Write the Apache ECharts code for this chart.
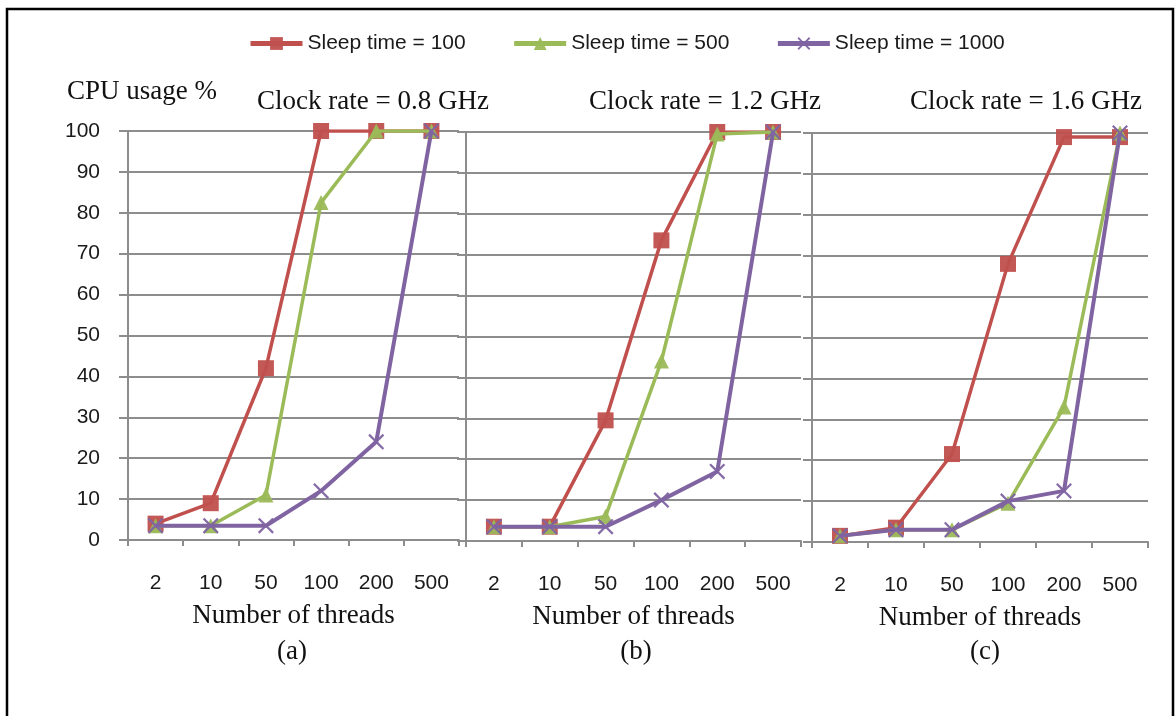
<!DOCTYPE html>
<html>
<head>
<meta charset="utf-8">
<script src="https://cdn.jsdelivr.net/npm/echarts@6/dist/echarts.min.js"></script>
<style>html,body{margin:0;padding:0;background:#fff}#c{width:1176px;height:716px}</style>
</head>
<body>
<div id="c"></div>
<script>
const categories = ['2', '10', '50', '100', '200', '500'];
const yTicks = [0, 10, 20, 30, 40, 50, 60, 70, 80, 90, 100];
const seriesNames = ['Sleep time = 100', 'Sleep time = 500', 'Sleep time = 1000'];
const panelTitles = ['Clock rate = 0.8 GHz', 'Clock rate = 1.2 GHz', 'Clock rate = 1.6 GHz'];
const panelCaptions = ['(a)', '(b)', '(c)'];

// Panel (a) 0.8 GHz
const a_sleep100 = [4, 9, 42, 100, 100, 100];
const a_sleep500 = [3.5, 3.5, 11, 82.5, 100, 100];
const a_sleep1000 = [3.5, 3.5, 3.5, 12, 24, 100];
// Panel (b) 1.2 GHz
const b_sleep100 = [3.5, 3.5, 29.5, 73.5, 100, 100];
const b_sleep500 = [3.5, 3.5, 6, 44, 99.5, 100];
const b_sleep1000 = [3.5, 3.5, 3.5, 10, 17, 100];
// Panel (c) 1.6 GHz
const c_sleep100 = [1.5, 3.5, 21.5, 68, 99, 99];
const c_sleep500 = [1.5, 3, 3, 9.5, 33, 100];
const c_sleep1000 = [1.5, 3, 3, 10, 12.5, 100];

const panels = [
  [a_sleep100, a_sleep500, a_sleep1000],
  [b_sleep100, b_sleep500, b_sleep1000],
  [c_sleep100, c_sleep500, c_sleep1000]
];

const colors = ['#C0504D', '#9BBB59', '#8064A2'];
const symbols = ['rect', 'triangle',
  'path://M0,1L1,0L5,4L9,0L10,1L6,5L10,9L9,10L5,6L1,10L0,9L4,5Z'];
const symbolSizes = [16, 15, 16];
const lineWidths = [3.5, 3.5, 4];

const grids = [
  { left: 128, top: 131, width: 331, height: 409 },
  { left: 466, top: 132, width: 335, height: 409 },
  { left: 812, top: 133, width: 336, height: 409 }
];

const SERIF = '"Liberation Serif", "Times New Roman", serif';
const SANS = '"Liberation Sans", Arial, sans-serif';
const GRIDC = '#8d8d8d';

const xAxes = grids.map((g, i) => ({
  type: 'category', gridIndex: i, data: categories, boundaryGap: true,
  axisLine: { show: true, lineStyle: { color: GRIDC, width: 2 } },
  axisTick: { show: true, length: 6, lineStyle: { color: GRIDC, width: 2 } },
  axisLabel: { margin: 33, fontSize: 21, color: '#1a1a1a', fontFamily: SANS },
  name: 'Number of threads', nameLocation: 'middle', nameGap: 62,
  nameTextStyle: { fontSize: 27, color: '#111', fontFamily: SERIF }
}));

const yAxes = grids.map((g, i) => ({
  type: 'value', gridIndex: i, min: 0, max: 100, interval: 10,
  axisLine: { show: true, lineStyle: { color: GRIDC, width: 2 } },
  axisTick: { show: true, length: 9, lineStyle: { color: GRIDC, width: 2 } },
  axisLabel: { show: i === 0, margin: 28, fontSize: 21, color: '#1a1a1a', fontFamily: SANS },
  splitLine: { show: true, lineStyle: { color: GRIDC, width: 2 } }
}));

const series = [];
panels.forEach((p, pi) => {
  p.forEach((vals, si) => {
    series.push({
      name: seriesNames[si], type: 'line', xAxisIndex: pi, yAxisIndex: pi,
      data: vals, symbol: symbols[si], symbolSize: symbolSizes[si],
      showAllSymbol: true, animation: false,
      lineStyle: { color: colors[si], width: lineWidths[si] },
      itemStyle: { color: colors[si], opacity: 0.95 },
      z: 2 + si
    });
  });
});

const titleCenters = [368, 700, 1021];
const titles = panelTitles.map((t, i) => ({
  text: t, left: titleCenters[i], top: 83, textAlign: 'center',
  textStyle: { fontSize: 27, fontWeight: 'normal', color: '#111', fontFamily: SERIF }
}));

const chart = echarts.init(document.getElementById('c'));
chart.setOption({
  backgroundColor: '#fff',
  animation: false,
  title: titles,
  legend: {
    data: seriesNames, top: 28, left: 243, itemGap: 46, itemWidth: 52, itemHeight: 16,
    lineStyle: { width: 5 },
    textStyle: { fontSize: 21, color: '#1a1a1a', fontFamily: SANS }
  },
  grid: grids,
  xAxis: xAxes,
  yAxis: yAxes,
  series: series,
  graphic: [
    { type: 'rect', shape: { x: 7, y: 9, width: 1166, height: 760 },
      style: { fill: 'none', stroke: '#000', lineWidth: 2.5 }, silent: true },
    { type: 'text', left: 67, top: 78,
      style: { text: 'CPU usage %', fontSize: 27, fill: '#111', fontFamily: SERIF } },
    ...panelCaptions.map((c, i) => ({
      type: 'text', x: [292, 636, 985][i], y: 652,
      style: { text: c, fontSize: 27, fill: '#111', fontFamily: SERIF, align: 'center', verticalAlign: 'middle' }
    }))
  ]
});
</script>
</body>
</html>
